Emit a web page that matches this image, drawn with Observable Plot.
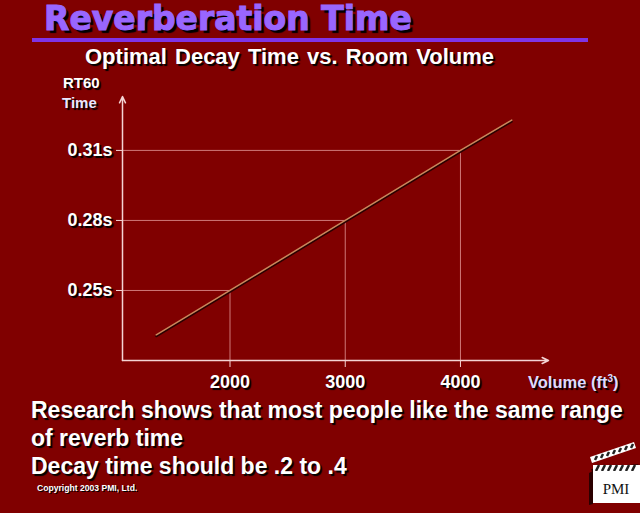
<!DOCTYPE html>
<html>
<head>
<meta charset="utf-8">
<script src="https://cdn.jsdelivr.net/npm/d3@7"></script>
<script src="https://cdn.jsdelivr.net/npm/@observablehq/plot@0.6"></script>
<style>
  html, body { margin: 0; padding: 0; }
  body { width: 640px; height: 513px; background: #800000; position: relative; overflow: hidden;
         font-family: "Liberation Sans", Arial, sans-serif; }
  .t { position: absolute; white-space: nowrap; font-weight: bold; color: #fff; line-height: 1;
       text-shadow: 2px 2px 1px #000; }
  #chart { position: absolute; left: 0; top: 0; }
  #chart svg text { text-shadow: 2px 2px 1px #000; }
</style>
</head>
<body>
<div class="t" style="left:44px; top:2px; font-family:'DejaVu Sans'; font-size:33px; color:#9966ff; -webkit-text-stroke:1px #9966ff; text-shadow:3px 3px 1px #000;">Reverberation Time</div>
<div style="position:absolute; left:32px; top:38px; width:556px; height:4px; background:#7f33e6;"></div>
<div class="t" style="left:85px; top:46px; font-size:22px; word-spacing:2px;">Optimal Decay Time vs. Room Volume</div>
<div class="t" style="left:63px; top:75px; font-size:15px;">RT60</div>
<div class="t" style="left:62px; top:95px; font-size:15px; color:#e8e8ff;">Time</div>
<div class="t" style="left:528px; top:374px; font-size:16.5px; color:#dcdcff;">Volume (ft<sup style="font-size:10px; vertical-align:6px;">3</sup>)</div>
<div class="t" style="left:31px; top:396px; font-size:23px; line-height:28px;">Research shows that most people like the same range<br>of reverb time<br>Decay time should be .2 to .4</div>
<div class="t" style="left:37px; top:484px; font-size:8.6px; text-shadow:1px 1px 0 #000;">Copyright 2003 PMI, Ltd.</div>
<div id="chart"></div>
<svg style="position:absolute; left:580px; top:438px;" width="60" height="70" viewBox="0 0 60 70">
  <polygon points="11,31 58,26 60,29 13,36" fill="#300000"/>
  <polygon points="10,19 54,4 56,10 12,25" fill="#fff"/>
  <g stroke="#222" stroke-width="2.5">
    <line x1="15" y1="22" x2="17" y2="18"/><line x1="21" y1="20" x2="23" y2="16"/>
    <line x1="27" y1="18" x2="29" y2="14"/><line x1="33" y1="16" x2="35" y2="12"/>
    <line x1="39" y1="14" x2="41" y2="10"/><line x1="45" y1="12" x2="47" y2="8"/>
    <line x1="51" y1="10" x2="53" y2="6"/>
  </g>
  <rect x="13" y="27" width="47" height="6" fill="#fff"/>
  <g stroke="#222" stroke-width="2.5">
    <line x1="16" y1="33" x2="19" y2="27"/><line x1="22" y1="33" x2="25" y2="27"/>
    <line x1="28" y1="33" x2="31" y2="27"/><line x1="34" y1="33" x2="37" y2="27"/>
    <line x1="40" y1="33" x2="43" y2="27"/><line x1="46" y1="33" x2="49" y2="27"/>
    <line x1="52" y1="33" x2="55" y2="27"/>
  </g>
  <polygon points="9,35 13,33 13,66 9,67" fill="#2a0000"/>
  <rect x="13" y="33" width="47" height="32" fill="#fff"/>
  <text x="36" y="56" font-family="'Liberation Serif', serif" font-size="15" text-anchor="middle" fill="#111">PMI</text>
</svg>
<script>
// ---- data ----
const volumes = [1360, 2000, 3000, 4000, 4445];        // ft^3
const rt60 = [0.231, 0.25, 0.28, 0.31, 0.323];         // seconds
const tickVolumes = [2000, 3000, 4000];
const tickVolumeLabels = ["2000", "3000", "4000"];
const tickTimes = [0.25, 0.28, 0.31];
const tickTimeLabels = ["0.25s", "0.28s", "0.31s"];
const xDomain = [1067, 4764];
const yDomain = [0.22, 0.3331];

const curve = volumes.map((v, i) => ({volume: v, time: rt60[i]}));
const guides = tickVolumes.map((v, i) => ({volume: v, time: tickTimes[i]}));
const axesArrows = [
  {x1: xDomain[0], y1: yDomain[0], x2: xDomain[1], y2: yDomain[0]},
  {x1: xDomain[0], y1: yDomain[0], x2: xDomain[0], y2: yDomain[1]}
];

const chart = Plot.plot({
  width: 640,
  height: 513,
  marginLeft: 122,
  marginRight: 92,
  marginTop: 96,
  marginBottom: 153,
  x: {domain: xDomain, axis: null},
  y: {domain: yDomain, axis: null},
  style: {background: "transparent", color: "white", fontFamily: "'Liberation Sans', Arial, sans-serif", overflow: "visible"},
  marks: [
    Plot.ruleY(guides, {y: "time", x1: xDomain[0], x2: "volume", stroke: "#e8a0a0", strokeOpacity: 0.75, strokeWidth: 1}),
    Plot.ruleX(guides, {x: "volume", y1: yDomain[0], y2: "time", stroke: "#e8a0a0", strokeOpacity: 0.75, strokeWidth: 1}),
    Plot.arrow(axesArrows, {x1: "x1", y1: "y1", x2: "x2", y2: "y2", stroke: "#f4d4d4", strokeWidth: 1.5, headLength: 7, headAngle: 50}),
    Plot.axisX({ticks: tickVolumes, tickFormat: d => tickVolumeLabels[tickVolumes.indexOf(d)], tickSize: 7, tickPadding: 8,
      fontSize: 18, fontWeight: "bold", stroke: "#f4d4d4", color: "white", label: null}),
    Plot.axisY({ticks: tickTimes, tickFormat: d => tickTimeLabels[tickTimes.indexOf(d)], tickSize: 6, tickPadding: 4,
      fontSize: 18, fontWeight: "bold", stroke: "#f4d4d4", color: "white", label: null}),
    Plot.line(curve, {x: "volume", y: "time", stroke: "#2a0000", strokeWidth: 2, dy: 1.5}),
    Plot.line(curve, {x: "volume", y: "time", stroke: "#c8885c", strokeWidth: 1.5})
  ]
});
document.getElementById("chart").appendChild(chart);
</script>
</body>
</html>
